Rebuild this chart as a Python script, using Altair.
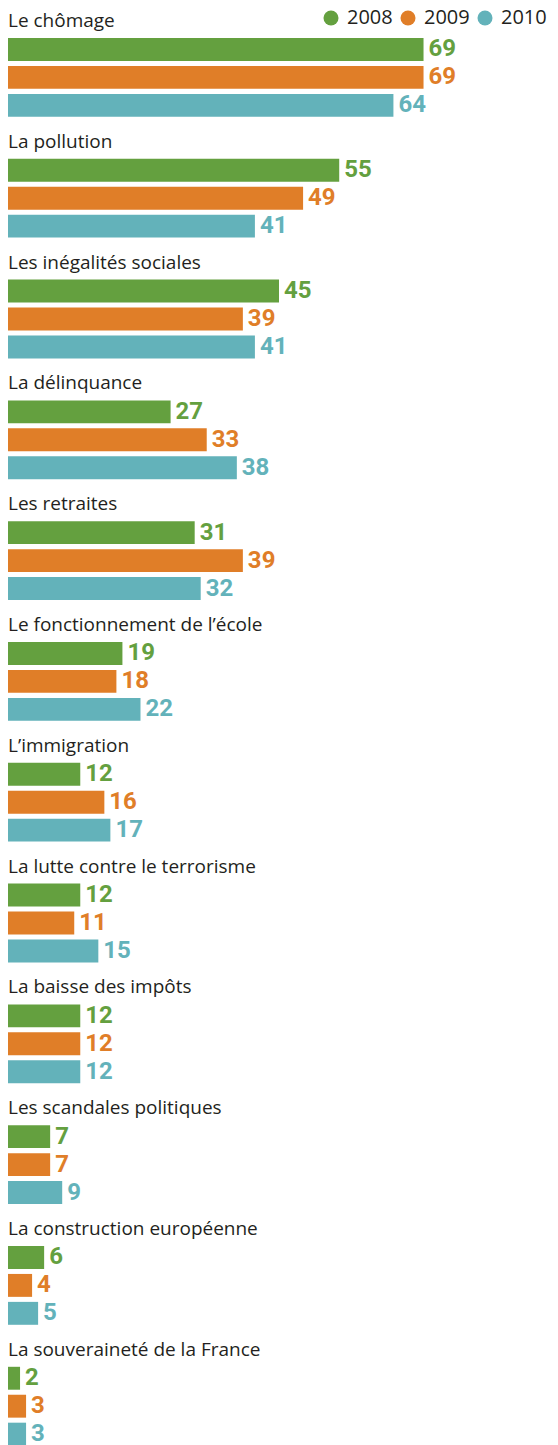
import altair as alt
import pandas as pd

categories = [
    "Le chômage",
    "La pollution",
    "Les inégalités sociales",
    "La délinquance",
    "Les retraites",
    "Le fonctionnement de l’école",
    "L’immigration",
    "La lutte contre le terrorisme",
    "La baisse des impôts",
    "Les scandales politiques",
    "La construction européenne",
    "La souveraineté de la France",
]
years = ["2008", "2009", "2010"]
v2008 = [69, 55, 45, 27, 31, 19, 12, 12, 12, 7, 6, 2]
v2009 = [69, 49, 39, 33, 39, 18, 16, 11, 12, 7, 4, 3]
v2010 = [64, 41, 41, 38, 32, 22, 17, 15, 12, 9, 5, 3]
colors = ["#64a03f", "#e07e28", "#63b2ba"]

rows = []
for i, c in enumerate(categories):
    for y, vals in zip(years, [v2008, v2009, v2010]):
        rows.append({"cat": c, "year": y, "value": vals[i]})
df = pd.DataFrame(rows)
labdf = pd.DataFrame({"cat": categories})

FONT = "Open Sans"
VFONT = "Roboto"
TEXT_COLOR = "#231f20"

yenc = alt.Y(
    "cat:N",
    sort=categories,
    axis=None,
    scale=alt.Scale(paddingInner=0.3477, paddingOuter=0.1242, align=1),
)
yoff = alt.YOffset(
    "year:N", sort=years, scale=alt.Scale(paddingInner=0.18, paddingOuter=0)
)
xenc = alt.X("value:Q", axis=None, scale=alt.Scale(domain=[0, 90], nice=False, zero=True))
color = alt.Color(
    "year:N",
    sort=years,
    scale=alt.Scale(domain=years, range=colors),
    legend=alt.Legend(
        title=None,
        orient="none",
        legendX=313,
        legendY=0,
        direction="horizontal",
        symbolType="circle",
        symbolSize=225,
        symbolStrokeWidth=0,
        symbolOpacity=1,
        labelFontSize=20,
        labelFont=FONT,
        labelColor=TEXT_COLOR,
        labelOffset=6,
        labelLimit=0,
        columnPadding=5,
        padding=0,
    ),
)

base = alt.Chart(df)
bars = base.mark_bar().encode(x=xenc, y=yenc, yOffset=yoff, color=color)
values = base.mark_text(
    align="left", baseline="middle", dx=5, fontSize=24, fontWeight="bold", font=VFONT
).encode(x=xenc, y=yenc, yOffset=yoff, color=color, text="value:Q")
labels = alt.Chart(labdf).mark_text(
    align="left", baseline="alphabetic", dy=-11, fontSize=19, font=FONT, color=TEXT_COLOR
).encode(
    x=alt.value(0),
    y=alt.Y("cat:N", sort=categories, bandPosition=0, axis=None),
    text="cat:N",
)

chart = (
    alt.layer(bars, values, labels)
    .properties(
        width=542,
        height=1437.6,
        autosize=alt.AutoSizeParams(type="none"),
        padding=0,
    )
    .configure_view(stroke=None)
)

chart.save("out.html", embed_options={"renderer": "svg", "actions": False})
